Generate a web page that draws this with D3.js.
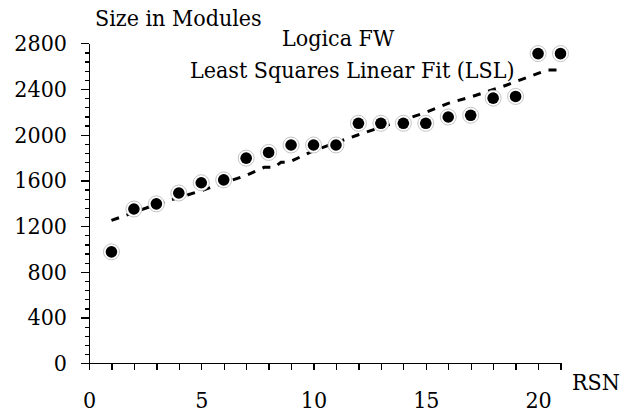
<!DOCTYPE html>
<html>
  <head>
    <meta charset="utf-8">
    <title>Logica FW</title>
    <style>
      body { margin: 0; background: #fff; }
      .axis path, .axis line { stroke: #000; stroke-width: 1.3; shape-rendering: crispEdges; }
      .fit { fill: none; stroke: #000; stroke-width: 3; stroke-dasharray: 8,8; }
    </style>
  </head>
  <body>
    <script src="https://cdn.jsdelivr.net/npm/d3@7"></script>
    <script>
      // DATA
      var rsn = [1, 2, 3, 4, 5, 6, 7, 8, 9, 10, 11, 12, 13, 14, 15, 16, 17, 18, 19, 20, 21];
      var modules = [975, 1350, 1395, 1490, 1580, 1605, 1795, 1845, 1910, 1910, 1910, 2100, 2100, 2100, 2100, 2155, 2170, 2320, 2335, 2710, 2710];
      // dashed fit line, vertices
      var fitRsn = [1, 3, 5, 6, 7, 7.8, 8.25, 8.55, 8.9, 10, 12, 15, 16, 17, 18.4, 20, 20.4, 20.9];
      var fitSize = [1250, 1390, 1510, 1577, 1645, 1715, 1715, 1759, 1759, 1860, 2000, 2195, 2275, 2330, 2420, 2537, 2566, 2566];
      var xTicks = [0, 5, 10, 15, 20];
      var yTicks = [0, 400, 800, 1200, 1600, 2000, 2400, 2800];

      var width = 638, height = 414;
      var x0 = 89, x1 = 560.5, y0 = 363.3, y1 = 43.3;
      var serif = "'DejaVu Serif Condensed', 'DejaVu Serif', serif";

      var svg = d3.select("body").append("svg")
          .attr("width", width)
          .attr("height", height);

      var xScale = d3.scaleLinear().domain([0, 21]).range([x0, x1]);
      var yScale = d3.scaleLinear().domain([0, 2800]).range([y0, y1]);

      // AXES
      var xAxis = svg.append("g")
          .attr("class", "x axis")
          .attr("transform", "translate(0," + y0 + ")")
          .call(d3.axisBottom(xScale).tickValues(d3.range(0, 22)).tickSize(7).tickSizeOuter(0)
              .tickFormat(function (d) { return xTicks.indexOf(d) >= 0 ? d : ""; }));
      xAxis.selectAll("text").attr("dy", null).attr("y", 45);

      // minor y ticks every 80
      svg.append("g")
          .attr("class", "y axis minor")
          .attr("transform", "translate(" + x0 + ",0)")
          .call(d3.axisLeft(yScale).tickValues(d3.range(80, 2800, 80).filter(function (v) { return v % 400 != 0; }))
              .tickSize(4).tickSizeOuter(0).tickFormat(""));
      var yAxis = svg.append("g")
          .attr("class", "y axis")
          .attr("transform", "translate(" + x0 + ",0)")
          .call(d3.axisLeft(yScale).tickValues(yTicks).tickSize(8).tickSizeOuter(0).tickPadding(14)
              .tickFormat(d3.format("d")));

      // FIT LINE
      var line = d3.line()
          .x(function (d, i) { return xScale(fitRsn[i]); })
          .y(function (d) { return yScale(d); });
      svg.append("path").datum(fitSize).attr("class", "fit").attr("d", line);

      // POINTS
      var pts = svg.selectAll(".pt").data(rsn).enter().append("g").attr("class", "pt")
          .attr("transform", function (d, i) { return "translate(" + xScale(d) + "," + yScale(modules[i]) + ")"; });
      pts.append("circle").attr("r", 8).style("fill", "#fff").style("stroke", "#b5b5b5").style("stroke-width", 0.8);
      pts.append("circle").attr("r", 5.8).style("fill", "#000");

      // LABELS
      svg.append("text").attr("x", 95).attr("y", 26).text("Size in Modules");
      svg.append("text").attr("x", 282).attr("y", 46).text("Logica FW");
      svg.append("text").attr("x", 190).attr("y", 78).text("Least Squares Linear Fit (LSL)");
      svg.append("text").attr("x", 572).attr("y", 390).text("RSN");

      svg.selectAll("text")
          .attr("font-family", serif).attr("font-size", 23)
          .style("font-family", serif).style("font-size", "23px")
          .style("font-stretch", "condensed").style("fill", "#000");
    </script>
  </body>
</html>
